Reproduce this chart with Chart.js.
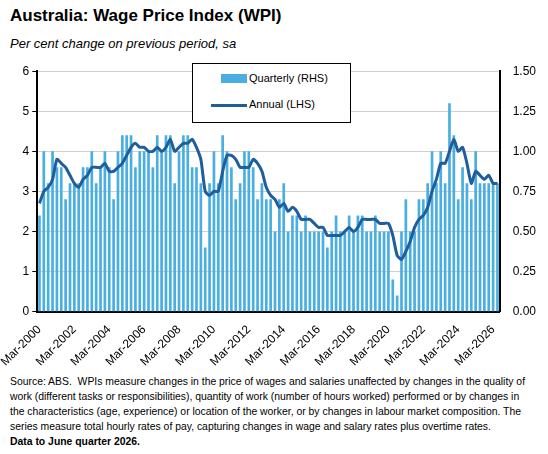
<!DOCTYPE html>
<html><head><meta charset="utf-8">
<script src="https://cdn.jsdelivr.net/npm/chart.js@4"></script>
<style>
body{margin:0;width:548px;height:454px;background:#fff;font-family:"Liberation Sans",Arial,sans-serif;position:relative;overflow:hidden}
#t{position:absolute;left:10px;top:6px;font-size:17px;font-weight:bold;color:#000}
#s{position:absolute;left:10px;top:36px;font-size:13px;font-style:italic;color:#000}
#c{position:absolute;left:0;top:56px;width:548px;height:316px}
#lg{position:absolute;left:192px;top:63px;width:157px;height:58px;border:1px solid #000;background:#fff;font-size:11px}
#f{position:absolute;left:10px;top:374px;width:522px;font-size:10.4px;line-height:15px;color:#000}
</style></head><body>
<div id="t">Australia: Wage Price Index (WPI)</div>
<div id="s">Per cent change on previous period, sa</div>
<div id="c"><canvas id="cv"></canvas></div>
<div id="lg">
<div style="position:absolute;left:28px;top:10px;width:26px;height:9px;background:#4AAFE0"></div>
<div style="position:absolute;left:56px;top:8px">Quarterly (RHS)</div>
<div style="position:absolute;left:18px;top:40px;width:36px;height:3px;background:#1F5E9C"></div>
<div style="position:absolute;left:56px;top:34px">Annual (LHS)</div>
</div>
<div id="f">Source: ABS.&nbsp; WPIs measure changes in the price of wages and salaries unaffected by changes in the quality of work (different tasks or responsibilities), quantity of work (number of hours worked) performed or by changes in the characteristics (age, experience) or location of the worker, or by changes in labour market composition. The series measure total hourly rates of pay, capturing changes in wage and salary rates plus overtime rates.<br><b>Data to June quarter 2026.</b></div>
<script>
const quarterly=[0.6,1.0,0.8,1.0,0.9,0.9,0.7,0.8,0.8,0.8,0.9,0.9,1.0,0.8,0.9,1.0,0.9,0.7,1.0,1.1,1.1,1.1,0.9,1.0,1.0,1.0,0.9,1.1,1.0,1.1,1.1,0.8,1.0,1.1,1.1,0.9,0.9,0.8,0.4,
0.8,1.0,0.8,1.1,1.0,0.9,0.7,0.8,1.0,1.0,0.9,0.7,0.8,0.7,0.7,0.5,0.7,0.8,0.5,0.6,0.6,0.5,0.6,0.5,0.5,0.5,0.5,0.4,0.5,0.6,0.5,0.5,0.6,0.5,0.6,0.6,0.5,
0.5,0.6,0.5,0.5,0.5,0.2,0.1,0.5,0.7,0.5,0.5,0.7,0.7,0.8,1.0,0.8,1.0,0.8,1.3,1.1,0.7,0.9,0.8,0.7,1.0,0.8,0.8,0.8,0.8,0.8];
const annual=[2.7,3.0,3.1,3.3,3.8,3.7,3.6,3.4,3.2,3.1,3.3,3.4,3.6,3.6,3.6,3.7,3.5,3.5,3.6,3.7,3.9,4.1,4.2,4.1,4.1,4.0,4.0,4.1,4.0,4.1,4.3,4.0,4.1,4.2,4.2,4.3,4.1,3.8,3.0,
2.9,3.0,3.0,3.5,3.9,3.9,3.8,3.6,3.6,3.6,3.8,3.7,3.5,3.1,2.9,2.8,2.6,2.7,2.5,2.6,2.5,2.3,2.3,2.3,2.2,2.1,2.1,1.9,1.9,1.9,1.9,2.0,2.1,2.0,2.1,2.3,2.3,
2.3,2.3,2.2,2.2,2.2,1.9,1.4,1.3,1.5,1.75,2.1,2.3,2.4,2.6,3.0,3.3,3.7,3.7,4.0,4.3,4.0,4.1,3.7,3.2,3.5,3.4,3.3,3.4,3.2,3.2];
const months=['Mar','Jun','Sep','Dec'];
const labels=[];for(let i=0;i<quarterly.length;i++)labels.push(months[i%4]+'-'+(2000+Math.floor(i/4)));
const leftTicks=[0,1,2,3,4,5,6];
const rightTicks=['0.00','0.25','0.50','0.75','1.00','1.25','1.50'];
const tf={family:'"Liberation Sans",Arial,sans-serif',size:12};
new Chart(document.getElementById('cv'),{
data:{labels,datasets:[
{type:'line',data:annual,yAxisID:'y',borderColor:'#1F5E9C',borderWidth:3,pointRadius:0,tension:0.2,order:0},
{type:'bar',data:quarterly,yAxisID:'y1',backgroundColor:'#4AAFE0',barPercentage:0.62,categoryPercentage:1,order:1}]},
options:{responsive:true,maintainAspectRatio:false,animation:false,
layout:{padding:{left:12,right:4,top:6,bottom:0}},
plugins:{legend:{display:false},tooltip:{enabled:false}},
scales:{
x:{offset:true,grid:{display:false,drawTicks:true},border:{color:'#000',width:2},
ticks:{autoSkip:false,maxRotation:45,minRotation:45,color:'#000',font:tf,callback:(v,i)=>i%8===0?labels[i]:''}},
y:{position:'left',min:0,max:6,afterBuildTicks:a=>{a.ticks=leftTicks.map(v=>({value:v}))},
grid:{color:'#d0d0d0',drawTicks:true,tickColor:'#000',tickLength:5},border:{color:'#000',width:2},
ticks:{color:'#000',font:tf}},
y1:{position:'right',min:0,max:1.5,afterBuildTicks:a=>{a.ticks=rightTicks.map(v=>({value:+v}))},
grid:{display:false,drawTicks:true,tickColor:'#000',tickLength:5},border:{color:'#000',width:2},
ticks:{color:'#000',font:tf,padding:8,callback:v=>v.toFixed(2)}}
}}});
</script></body></html>
